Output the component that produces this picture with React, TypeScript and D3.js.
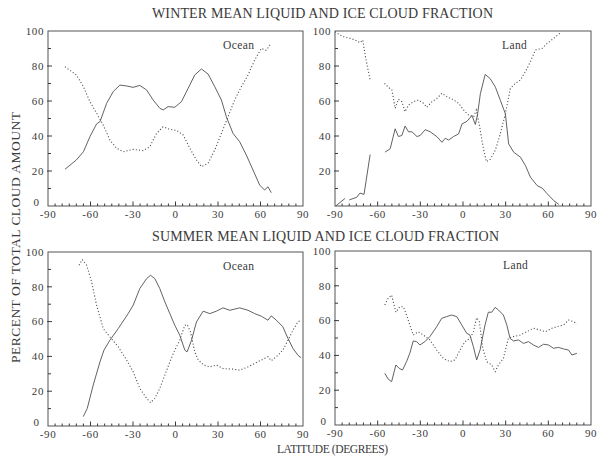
import React from "react";
import * as d3 from "d3";

type Pt = [number, number | null];

// Latitude profiles: [latitude, percent of total cloud amount]; null marks a data gap
const winterOceanLiquid: Pt[] = [
  [-78, 21], [-70, 26.3], [-65, 31], [-60.4, 39.6], [-55.7, 46.9], [-53.3, 48.2], [-48.6, 58.7],
  [-44, 65.3], [-39.3, 69.1], [-34.6, 68.6], [-29.9, 67.8], [-25.2, 68.9], [-20.4, 66.3],
  [-15.8, 60.6], [-11, 55.8], [-8.7, 54.9], [-5.2, 56.8], [-0.5, 56.4], [4.2, 59.6], [8.9, 67.2],
  [13.6, 74.9], [18.3, 78.3], [23, 75.4], [27.7, 68.2], [32.4, 60.6], [35.9, 51], [40.6, 41.5],
  [45.3, 36.7], [50, 29.1], [54.7, 20.6], [59.4, 12], [62.9, 9.1], [65.3, 11], [67.6, 7.6],
];
const winterOceanIce: Pt[] = [
  [-78, 79.6], [-70, 74.9], [-65, 68.2], [-60.4, 59.6], [-55.7, 53], [-51, 46.3], [-46.3, 37.7],
  [-41.6, 33], [-36.9, 31], [-29.9, 32.4], [-22.8, 31.6], [-18.1, 33.9], [-13.4, 41.5],
  [-8.7, 45.3], [-4, 43.8], [0.7, 43.2], [5.4, 40.6], [10.1, 33], [14.8, 26.3], [18.3, 22.5],
  [23, 24.4], [27.7, 32], [32.4, 41.5], [37.1, 51], [41.8, 60.6], [46.5, 68.2], [51.2, 74.9],
  [55.9, 83.4], [60.6, 90.1], [64, 89], [67.6, 93],
];
const winterLandLiquid: Pt[] = [
  [-89.5, 0], [-83, 4.3], [-81.5, null], [-80, 3.5], [-74.7, 5], [-72.4, 7.4], [-69.6, 6.6],
  [-65.3, 29.4], [-60, null],
  [-54.8, 30.8], [-51.2, 32.7], [-47.7, 44.1], [-45.4, 39.7], [-43, 40.3], [-40.7, 45.7],
  [-38.3, 42.4], [-35.9, 42.4], [-32.4, 39.7], [-30.1, 40.3], [-26.6, 43.6], [-23, 42.4],
  [-18.3, 39.6], [-14.8, 36.4], [-12.5, 38.7], [-10.1, 37.7], [-6.6, 39.7], [-3.1, 41.2],
  [-0.7, 46.9], [2.8, 48.4], [6.3, 51.7], [8.7, 46.6], [10.3, 52.7], [12.2, 64.1], [15.6, 75.2],
  [19.2, 72.7], [22.8, 67.9], [26.3, 60.3], [29.8, 52.7], [32.1, 35.5], [35.7, 30.7],
  [40.4, 27.9], [43.9, 23.1], [47.4, 16.5], [52.1, 11.7], [55.7, 10.2], [59.2, 7], [63.8, 3.1],
  [67.4, 0.9],
];
const winterLandIce: Pt[] = [
  [-90, 99.6], [-86.5, 97.7], [-83, 96.4], [-79.4, 95.8], [-75.9, 94.9], [-72.4, 93.3],
  [-70.5, 94.9], [-68.8, 86.3], [-66.5, 76.8], [-65.3, 72], [-60, null],
  [-55.2, 70.1], [-52.4, 67.8], [-50, 66.3], [-47.7, 55.8], [-45.4, 61], [-43, 59.6],
  [-40.7, 53.9], [-38.3, 57.7], [-34.8, 59.6], [-31.3, 60.6], [-27.8, 58.7], [-25.4, 56.4],
  [-21.8, 59.6], [-18.3, 61.5], [-14.8, 64.4], [-11.3, 62.5], [-6.6, 60.6], [-3.1, 58.7],
  [0.4, 54.9], [3.9, 52], [7.5, 51], [9.4, 54.9], [11.7, 45.3], [14.1, 33.9], [16.4, 25.3],
  [19.2, 26.7], [22.8, 32], [26.3, 41.5], [29.8, 52.7], [33.3, 67.2], [36.9, 70.1], [40.4, 72],
  [43.9, 76.8], [47.4, 82.5], [50.9, 89.1], [55.7, 90.1], [59.2, 92.9], [63.8, 95.8], [68.1, 98.7],
];
const summerOceanLiquid: Pt[] = [
  [-65.1, 5.4], [-62.3, 10.1], [-58.1, 23.5], [-53.3, 36.9], [-50.5, 43.6], [-46.3, 49.3],
  [-40.4, 56], [-33.4, 64.6], [-29.9, 69.4], [-25.2, 79], [-20.4, 84.7], [-17.6, 86.6],
  [-14.6, 84.7], [-11.1, 79], [-7.5, 71.3], [-4, 64.6], [-0.5, 57.9], [3, 52.2], [6.6, 43.6],
  [8.2, 42.6], [11.3, 49.3], [14.8, 59.8], [19.5, 66], [24.2, 64.6], [28.9, 66], [33.5, 67.9],
  [38.3, 66.5], [45.3, 67.9], [51.2, 66.5], [55.9, 64.6], [60.6, 63.1], [65.3, 60.8],
  [67.6, 63.3], [71.2, 60.8], [75.8, 57], [79.4, 50.3], [82.9, 44.6], [86.4, 40.7], [88.7, 39.2],
];
const summerOceanIce: Pt[] = [
  [-68.1, 92.4], [-65.8, 95.6], [-62.7, 92.4], [-59.2, 82.8], [-55.7, 69.4], [-51, 56],
  [-46.3, 51.2], [-40.4, 45.5], [-34.5, 37.9], [-29.9, 31.2], [-25.2, 21.6], [-20.4, 15.9],
  [-17.6, 13.4], [-14.6, 15.9], [-11.1, 21.6], [-7.5, 29.3], [-4, 36.9], [-0.5, 43.6],
  [3, 49.3], [6.6, 57.9], [8.2, 58.3], [10.6, 54.1], [13.6, 42.6], [16, 38], [20, 35],
  [24.2, 34], [28.9, 35], [33.5, 33], [40.6, 32.7], [45.3, 32.1], [51.2, 34], [55.9, 36],
  [60.6, 37.9], [65.3, 39.8], [67.6, 37.5], [71.2, 39.8], [75.8, 43.6], [79.4, 49.3],
  [82.9, 55], [86.4, 59.8], [88.7, 60.8],
];
const summerLandLiquid: Pt[] = [
  [-55, 29.7], [-52.6, 26.4], [-50.2, 24.9], [-47.2, 34.5], [-44.9, 32.6], [-42.5, 31.6],
  [-39.7, 36.4], [-37.4, 41.2], [-35, 48.3], [-32.6, 47.9], [-30.3, 46], [-26.8, 47.9],
  [-23.3, 50.8], [-18.5, 56.5], [-15, 61.3], [-11.5, 62.3], [-8, 63.2], [-4.4, 62.3],
  [-0.9, 57.5], [2.6, 52.7], [4.9, 51.7], [7.3, 45], [9.6, 37.4], [12, 43.1], [15.5, 57.5],
  [17.8, 64.8], [20.2, 64.8], [22.6, 67.6], [24.9, 66.1], [28.4, 63.2], [30.8, 57.5],
  [33.1, 49.8], [35.5, 48.3], [39, 48.9], [42.5, 46.9], [46, 47.9], [49.5, 46], [53.1, 44.6],
  [56.6, 46.4], [60.1, 46], [63.6, 44.1], [67.2, 44.6], [70.7, 43.7], [74.2, 43.1],
  [76.6, 40.2], [80.1, 41.2],
];
const summerLandIce: Pt[] = [
  [-55, 69], [-52.6, 72.8], [-50.2, 74.7], [-47.2, 64.8], [-44.4, 68], [-42, 68], [-39.7, 63.2],
  [-37.4, 57.5], [-35, 51.7], [-31.5, 53.6], [-27.9, 51.7], [-23.3, 48.9], [-18.5, 43.1],
  [-13.9, 38.3], [-9.2, 36.4], [-5.6, 37.4], [-2.1, 43.1], [1.4, 47.9], [4.9, 49.8],
  [7.3, 53.6], [9.6, 61.7], [11.5, 59.4], [13.9, 44.1], [16.7, 36.4], [20.2, 34.5],
  [22.6, 30.7], [24.9, 34.5], [28.4, 38.3], [31.9, 49.8], [35.5, 50.8], [40.2, 51.7],
  [44.9, 53.6], [49.5, 55.6], [54.3, 54.6], [57.8, 53.6], [62.5, 55.6], [66, 56.5], [70.7, 57.5],
  [74.2, 60.3], [77.7, 59.4], [80.1, 58],
];

const latTicks = [-90, -60, -30, 0, 30, 60, 90];
const pctTicks = [0, 20, 40, 60, 80, 100];

const titles = [
  "WINTER MEAN LIQUID AND ICE CLOUD FRACTION",
  "SUMMER MEAN LIQUID AND ICE CLOUD FRACTION",
];
const yTitle = "PERCENT OF TOTAL CLOUD AMOUNT";
const xTitle = "LATITUDE (DEGREES)";

const FONT = "'Liberation Serif', 'Times New Roman', serif";
const INK = "#3a3a3a";

interface PanelProps {
  x0: number; x1: number; y0: number; y1: number;
  label: string; labelX: number;
  liquid: Pt[]; ice: Pt[];
  showZero: boolean;
}

function Panel({ x0, x1, y0, y1, label, labelX, liquid, ice, showZero }: PanelProps) {
  const x = d3.scaleLinear().domain([-90, 90]).range([x0, x1]);
  const y = d3.scaleLinear().domain([0, 100]).range([y1, y0]);
  const line = d3
    .line<Pt>()
    .defined((d) => d[1] !== null)
    .x((d) => x(d[0]))
    .y((d) => y(d[1] as number))
    .curve(d3.curveLinear);

  const minorLat = d3.range(-85, 90, 5).filter((v) => v % 30 !== 0);
  const minorPct = d3.range(10, 100, 20);

  return (
    <g>
      <rect x={x0} y={y0} width={x1 - x0} height={y1 - y0} fill="none" stroke="#555" strokeWidth={1} />
      {/* y ticks */}
      {pctTicks.map((t) => (
        <g key={"y" + t}>
          {t > 0 && t < 100 && (
            <line x1={x0 - 1} x2={x0 + 4} y1={y(t)} y2={y(t)} stroke={INK} strokeWidth={1} />
          )}
          {t > 0 && (
            <text x={x0 - 4} y={y(t)} dy="0.35em" textAnchor="end" fontSize={11}
              letterSpacing={0.6} fill={INK} fontFamily={FONT}>{t}</text>
          )}
          {t === 0 && showZero && (
            <text x={x0 - 9} y={y(t) - 0.5} textAnchor="end" fontSize={11}
              fill={INK} fontFamily={FONT}>{t}</text>
          )}
        </g>
      ))}
      {minorPct.map((t) => (
        <line key={"ym" + t} x1={x0} x2={x0 + 3} y1={y(t)} y2={y(t)} stroke={INK} strokeWidth={1} />
      ))}
      {/* x ticks */}
      {latTicks.map((t) => (
        <g key={"x" + t}>
          {t > -90 && t < 90 && (
            <line x1={x(t)} x2={x(t)} y1={y1} y2={y1 - 4.5} stroke={INK} strokeWidth={1} />
          )}
          <text x={x(t)} y={y1 + 11.5} textAnchor="middle" fontSize={11} letterSpacing={0.6}
            fill={INK} fontFamily={FONT}>{t}</text>
        </g>
      ))}
      {minorLat.map((t) => (
        <line key={"xm" + t} x1={x(t)} x2={x(t)} y1={y1} y2={y1 - 2.5} stroke={INK} strokeWidth={1} />
      ))}
      <path d={line(liquid) ?? ""} fill="none" stroke="#505050" strokeWidth={0.9} />
      <path d={line(ice) ?? ""} fill="none" stroke="#505050" strokeWidth={1.1} strokeDasharray="1.1 2.1" />
      <text x={labelX} y={y0 + 18} fontSize={11.5} fill={INK} fontFamily={FONT} letterSpacing={0.4}>{label}</text>
    </g>
  );
}

export default function App() {
  return (
    <svg width={597} height={463} style={{ position: "absolute", left: 0, top: 0, background: "#fff" }}>
      <rect width={597} height={463} fill="#fff" />
      <text x={152} y={18} fontSize={14} fill={INK} fontFamily={FONT} textLength={341} lengthAdjust="spacing">{titles[0]}</text>
      <text x={152} y={241} fontSize={14} fill={INK} fontFamily={FONT} textLength={347} lengthAdjust="spacing">{titles[1]}</text>
      <Panel x0={48} x1={303} y0={31} y1={206} label="Ocean" labelX={223} liquid={winterOceanLiquid} ice={winterOceanIce} showZero />
      <Panel x0={335} x1={591} y0={31} y1={206} label="Land" labelX={502} liquid={winterLandLiquid} ice={winterLandIce} showZero={false} />
      <Panel x0={48} x1={303} y0={252} y1={426} label="Ocean" labelX={223} liquid={summerOceanLiquid} ice={summerOceanIce} showZero />
      <Panel x0={335} x1={591} y0={251} y1={425} label="Land" labelX={503} liquid={summerLandLiquid} ice={summerLandIce} showZero />
      <text transform="translate(20,237.5) rotate(-90)" textAnchor="middle" fontSize={13.5} fill={INK}
        fontFamily={FONT} textLength={251} lengthAdjust="spacing">{yTitle}</text>
      <text x={277} y={453} fontSize={11.5} fill={INK} fontFamily={FONT} textLength={111} lengthAdjust="spacing">{xTitle}</text>
    </svg>
  );
}
